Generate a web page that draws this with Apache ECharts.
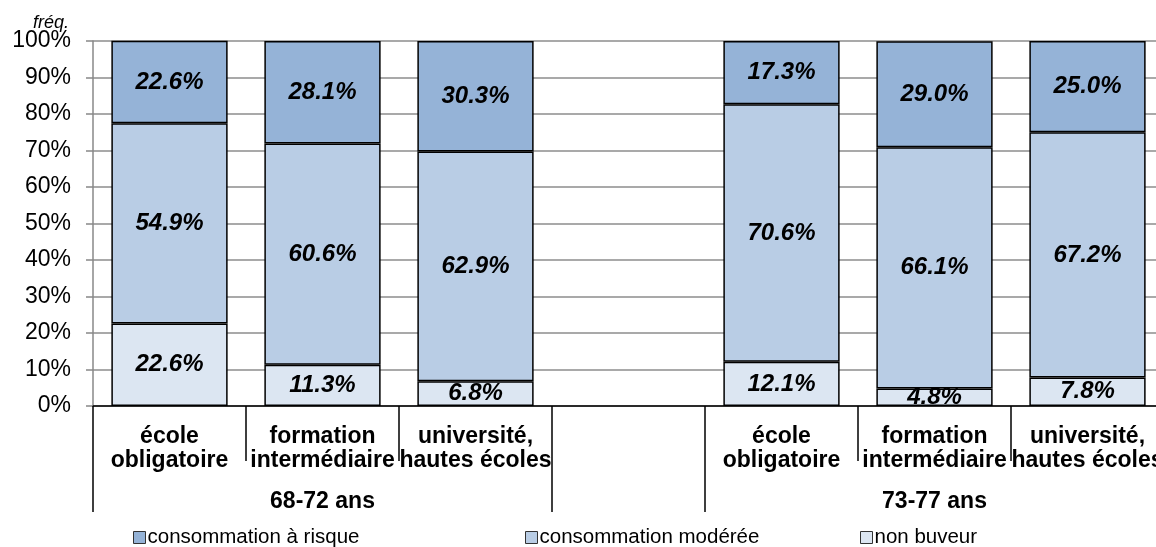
<!DOCTYPE html>
<html>
<head>
<meta charset="utf-8">
<script src="https://cdn.jsdelivr.net/npm/echarts@6/dist/echarts.min.js"></script>
<style>
html,body{margin:0;padding:0;background:#fff;overflow:hidden;}
#chart{width:1156px;height:547px;}
</style>
</head>
<body>
<div id="chart"></div>
<script>
// Categories (7 slots: 3 + empty separator + 3)
const categories = ['école\nobligatoire', 'formation\nintermédiaire', 'université,\nhautes écoles', '', 'école\nobligatoire', 'formation\nintermédiaire', 'université,\nhautes écoles'];
const groupLabels = ['', '68-72 ans', '', '', '', '73-77 ans', ''];
const yTicks = [0, 10, 20, 30, 40, 50, 60, 70, 80, 90, 100];

// Series values (%)
const nonBuveur = [22.6, 11.3, 6.8, null, 12.1, 4.8, 7.8];
const moderee   = [54.9, 60.6, 62.9, null, 70.6, 66.1, 67.2];
const risque    = [22.6, 28.1, 30.3, null, 17.3, 29.0, 25.0];

const seriesNames = ['consommation à risque', 'consommation modérée', 'non buveur'];
const colors = {risque: '#95B3D7', moderee: '#B9CDE5', non: '#DCE6F2'};

const FONT = '"Liberation Sans", Arial, sans-serif';

const labelCfg = {
  show: true,
  position: 'inside',
  formatter: p => (p.value == null ? '' : p.value.toFixed(1) + '%'),
  fontFamily: FONT,
  fontWeight: 'bold',
  fontStyle: 'italic',
  fontSize: 24,
  color: '#000'
};

function barSeries(name, data, color) {
  return {
    name: name,
    type: 'bar',
    stack: 'total',
    data: data,
    barWidth: '76%',
    itemStyle: {color: color, borderColor: '#000', borderWidth: 1.5},
    label: labelCfg,
    emphasis: {disabled: true}
  };
}

const chart = echarts.init(document.getElementById('chart'), null, {renderer: 'canvas'});

const legendBase = {
  top: 527,
  padding: 0,
  icon: 'rect',
  itemWidth: 12,
  itemHeight: 12,
  itemStyle: {borderColor: '#333', borderWidth: 1},
  textStyle: {fontFamily: FONT, fontSize: 20.5, color: '#000', padding: [0, 0, 0, -3]},
  selectedMode: false
};

chart.setOption({
  animation: false,
  textStyle: {fontFamily: FONT},
  title: {
    text: 'fréq.',
    left: 33,
    top: 14,
    padding: 0,
    textStyle: {fontFamily: FONT, fontSize: 18, fontStyle: 'italic', fontWeight: 'normal', color: '#000'}
  },
  legend: [
    Object.assign({}, legendBase, {left: 133, data: [seriesNames[0]]}),
    Object.assign({}, legendBase, {left: 525, data: [seriesNames[1]]}),
    Object.assign({}, legendBase, {left: 860, data: [seriesNames[2]]})
  ],
  grid: {left: 93, width: 1071, top: 41, height: 365, containLabel: false, outerBoundsMode: 'none'},
  xAxis: [
    {
      type: 'category',
      data: categories,
      position: 'bottom',
      axisLine: {show: true, lineStyle: {color: '#000', width: 1.5}},
      axisTick: {show: true, interval: 0, length: 55, lineStyle: {color: '#000', width: 1.5}},
      axisLabel: {interval: 0, margin: 19, fontFamily: FONT, fontSize: 23, fontWeight: 'bold', color: '#000', lineHeight: 24},
      splitLine: {show: false}
    },
    {
      type: 'category',
      data: groupLabels,
      position: 'bottom',
      axisLine: {show: false},
      axisTick: {show: true, interval: (i) => i === 0 || i === 3 || i === 4, length: 106, lineStyle: {color: '#000', width: 1.5}},
      axisLabel: {interval: 0, margin: 84, fontFamily: FONT, fontSize: 23, fontWeight: 'bold', color: '#000'},
      splitLine: {show: false}
    }
  ],
  yAxis: {
    type: 'value',
    min: yTicks[0],
    max: yTicks[yTicks.length - 1],
    interval: 10,
    axisLine: {show: true, lineStyle: {color: '#888', width: 1.5}},
    axisTick: {show: true, length: 7, lineStyle: {color: '#888', width: 1.5}},
    axisLabel: {formatter: '{value}%', margin: 22, fontFamily: FONT, fontSize: 23, color: '#000'},
    splitLine: {show: true, lineStyle: {color: '#8c8c8c', width: 1.5}}
  },
  series: [
    barSeries(seriesNames[2], nonBuveur, colors.non),
    barSeries(seriesNames[1], moderee, colors.moderee),
    barSeries(seriesNames[0], risque, colors.risque)
  ]
});
</script>
</body>
</html>
